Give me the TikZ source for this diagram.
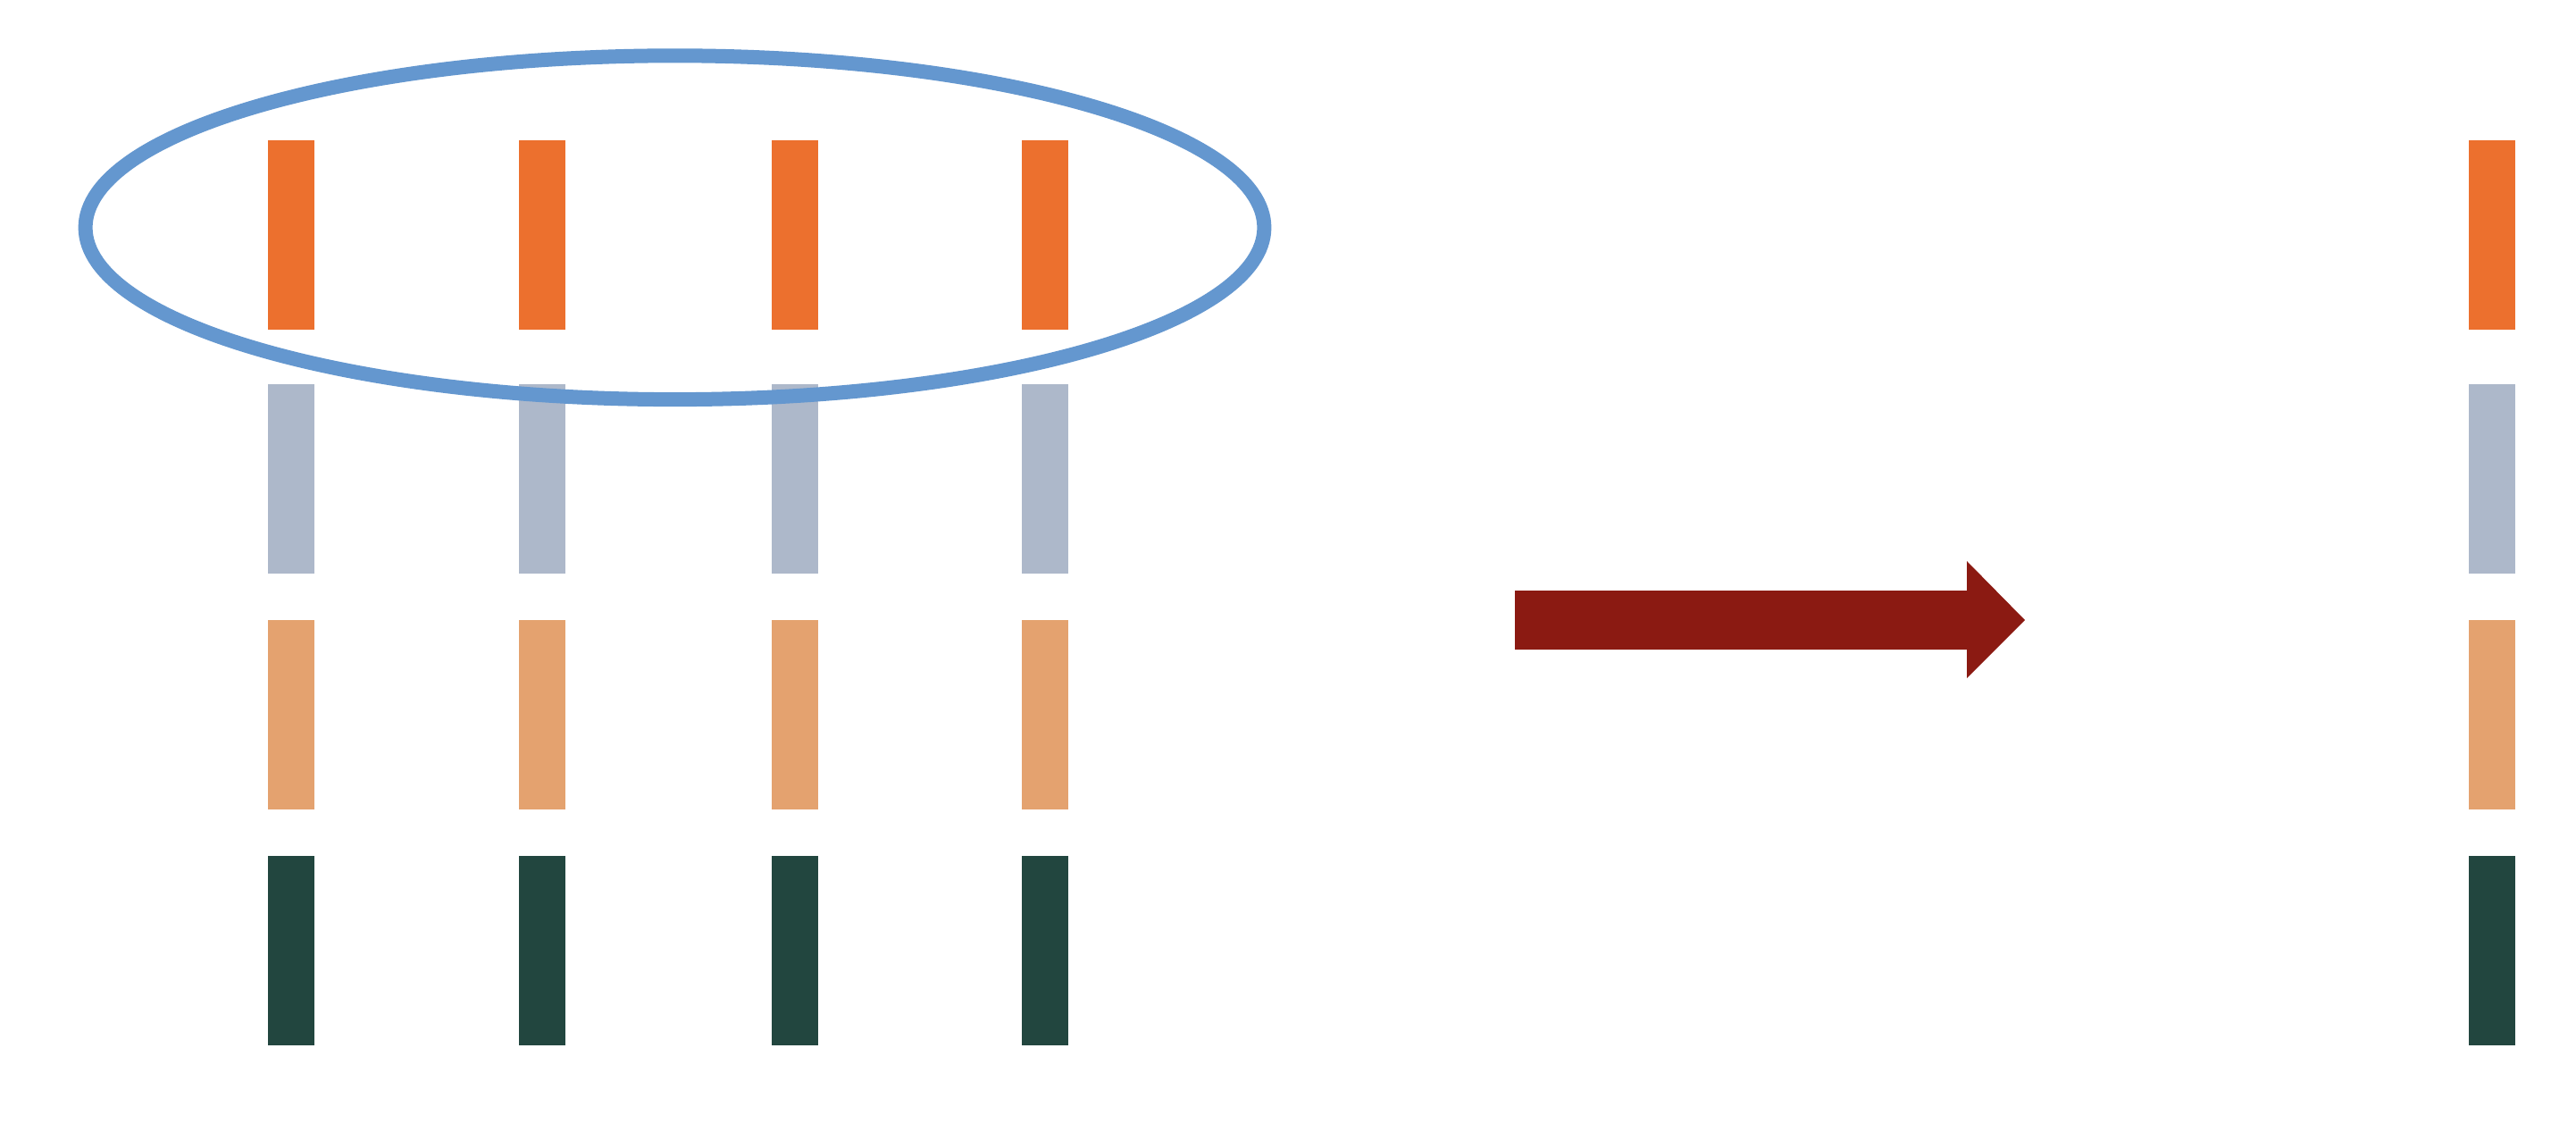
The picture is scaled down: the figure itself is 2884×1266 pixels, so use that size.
\documentclass[tikz,border=0pt]{standalone}
\usetikzlibrary{shapes.geometric}
\definecolor{cOrange}{HTML}{EC702E}
\definecolor{cGray}{HTML}{ADB8CA}
\definecolor{cPeach}{HTML}{E4A26F}
\definecolor{cGreen}{HTML}{22463F}
\definecolor{cBlue}{HTML}{6497CF}
\definecolor{cRed}{HTML}{8B1A12}
\begin{document}
\begin{tikzpicture}[x=0.01cm,y=-0.01cm,
  bar/.style={rectangle,inner sep=0pt,outer sep=0pt,minimum width=0.52cm,minimum height=2.11cm,draw=none},
  grp/.style={ellipse,draw=cBlue,line width=0.16cm,inner sep=0pt,minimum width=13.19cm,minimum height=3.846cm}]
\useasboundingbox (0,0) rectangle (2884,1266);
\fill[white] (0,0) rectangle (2884,1266);
% left grid of bars
\foreach \c/\x in {1/326,2/607,3/890,4/1170}{
  \node[bar,fill=cOrange] (o\c) at (\x,263) {};
  \node[bar,fill=cGray]   (g\c) at (\x,536) {};
  \node[bar,fill=cPeach]  (p\c) at (\x,800) {};
  \node[bar,fill=cGreen]  (d\c) at (\x,1064) {};
}
% right column
\node[bar,fill=cOrange] (oR) at (2790,263) {};
\node[bar,fill=cGray]   (gR) at (2790,536) {};
\node[bar,fill=cPeach]  (pR) at (2790,800) {};
\node[bar,fill=cGreen]  (dR) at (2790,1064) {};
% ellipse around top row
\node[grp] (sel) at (755.5,254.7) {};
% block arrow
\fill[cRed] (1696,661) -- (2202,661) -- (2202,628) -- (2267,694) -- (2202,759) -- (2202,727) -- (1696,727) -- cycle;
\end{tikzpicture}
\end{document}
